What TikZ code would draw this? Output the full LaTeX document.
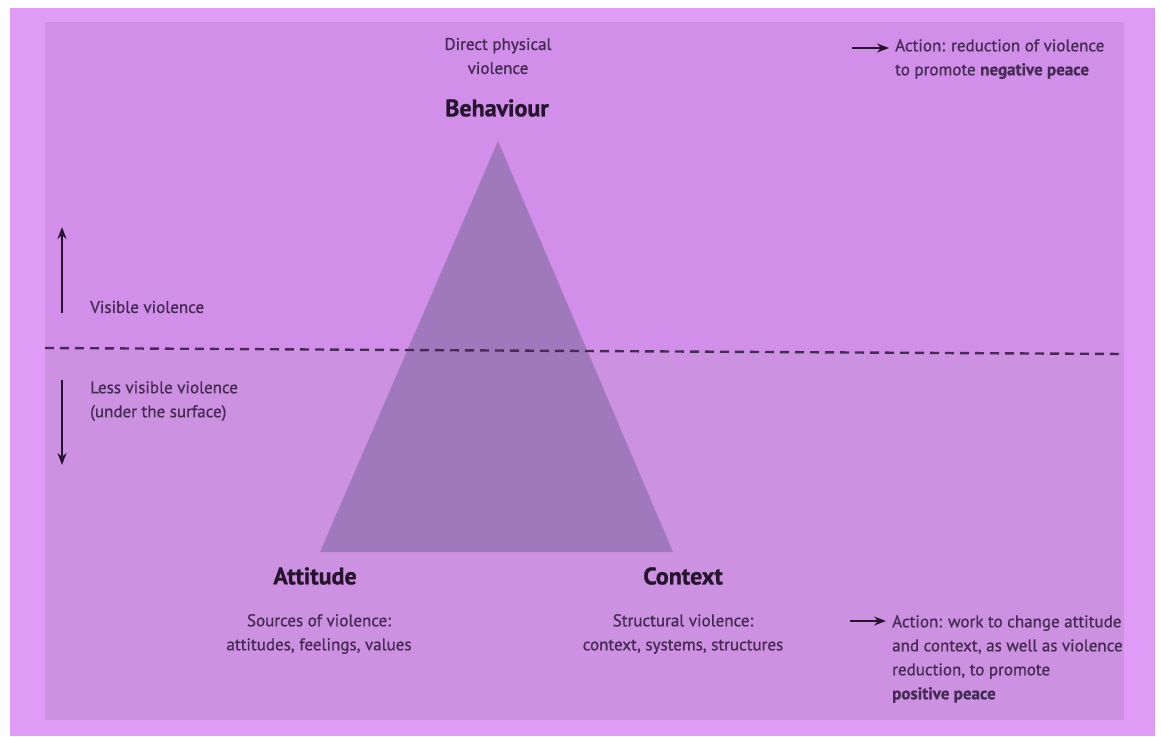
\documentclass[tikz,border=0pt]{standalone}
\usepackage{fontspec}
\setmainfont{PT Sans}[FakeBold=1.0]
\usetikzlibrary{arrows.meta}
\definecolor{rand}{RGB}{224,155,247}
\definecolor{feld}{RGB}{209,143,234}
\definecolor{unten}{RGB}{205,145,226}
\definecolor{dreieck}{RGB}{160,120,188}
\definecolor{schrift}{RGB}{70,44,84}
\definecolor{titel}{RGB}{38,20,46}
\begin{document}
\begin{tikzpicture}[x=1pt,y=-1pt,
  txt/.style={text=schrift,font=\fontsize{17}{24}\selectfont,inner sep=0pt},
  kopf/.style={text=titel,font=\fontsize{24}{28}\selectfont\bfseries,inner sep=0pt},
  pfeil/.style={-{Stealth[length=12pt,width=9pt]},line width=1.8pt,draw=titel}]
\useasboundingbox (0,0) rectangle (1161,736);
% Hintergrund
\fill[white] (0,0) rectangle (1161,736);
\fill[rand] (10,8) rectangle (1155,736);
\fill[feld] (45,22) rectangle (1124,720);
\fill[unten] (45,351) rectangle (1124,720);

% Dreieck
\coordinate (B) at (498,141);
\coordinate (A) at (320,552);
\coordinate (C) at (673,552);
\fill[dreieck] (B) -- (A) -- (C) --cycle;

% Trennlinie
\coordinate (links) at (45,348);
\coordinate (rechts) at (1124,354);
\draw[dash pattern=on 9pt off 6pt,line width=2.4pt,draw=schrift] (links) -- (rechts);

% Texte oben
\node[txt,align=center] (direkt) at (498,56) {Direct physical\\violence};
\node[kopf] (behaviour) at (497,108) {Behaviour};
\node[txt,align=left,anchor=north west] (aktion1) at (895,39) {Action: reduction of violence\\to promote \textbf{negative peace}};

% Texte links
\node[txt,anchor=west] (sichtbar) at (90,307) {Visible violence};
\node[txt,align=left,anchor=north west] (unsichtbar) at (90,381) {Less visible violence\\(under the surface)};

% Texte unten
\node[kopf] (attitude) at (315,576) {Attitude};
\node[txt,align=center] (quellen) at (319,634) {Sources of violence:\\attitudes, feelings, values};
\node[kopf] (context) at (683,576) {Context};
\node[txt,align=center] (struktur) at (683,634) {Structural violence:\\context, systems, structures};
\node[txt,align=left,anchor=north west] (aktion2) at (892,615) {Action: work to change attitude\\and context, as well as violence\\reduction, to promote\\\textbf{positive peace}};

% Pfeile
\coordinate (hoch1) at (62,313);
\coordinate (hoch2) at (62,227);
\coordinate (runter1) at (62,380);
\coordinate (runter2) at (62,465);
\coordinate (pfeil1) at (852,48);
\coordinate (pfeil2) at (850,621);
\draw[pfeil] (hoch1) -- (hoch2);
\draw[pfeil] (runter1) -- (runter2);
\draw[pfeil] (pfeil1) -- ([xshift=-6pt]pfeil1 -| aktion1.west);
\draw[pfeil] (pfeil2) -- ([xshift=-6pt]pfeil2 -| aktion2.west);
\end{tikzpicture}
\end{document}
